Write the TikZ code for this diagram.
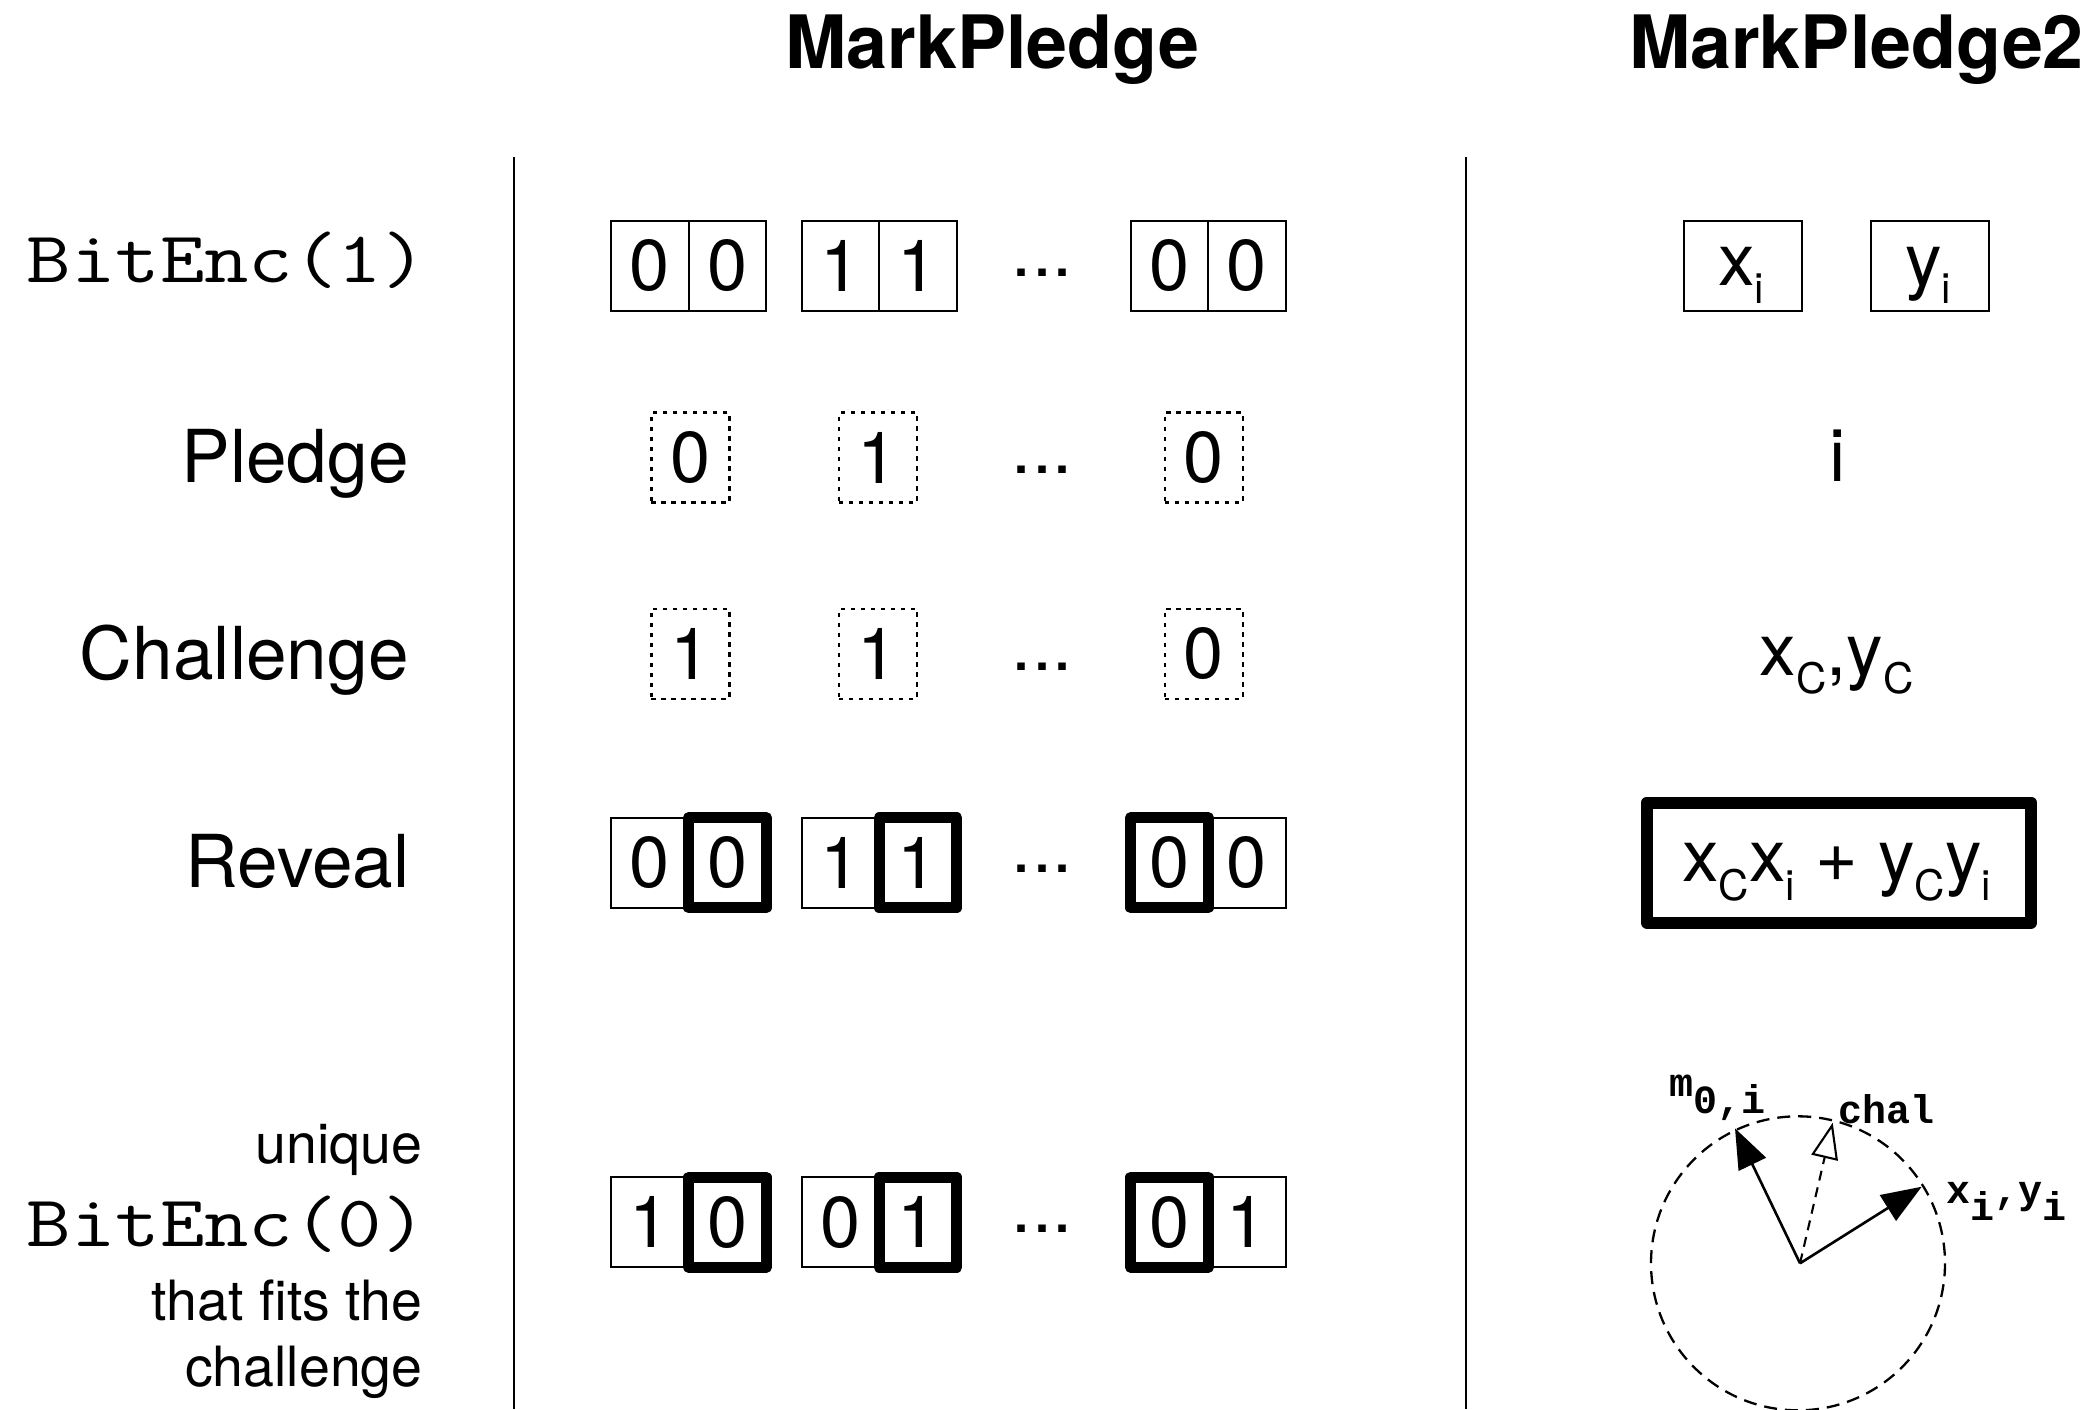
\documentclass[tikz,border=0pt]{standalone}
\usepackage{graphicx}
\usepackage{fontspec}
\setmainfont{TeX Gyre Heros}
\newfontfamily\monofam{Liberation Mono}
\usetikzlibrary{arrows.meta}
\newcommand{\digfont}{\fontsize{36}{40}\selectfont}
\newcommand{\bigfont}{\fontsize{36.5}{40}\selectfont}
\newcommand{\smallfont}{\fontsize{27.75}{32}\selectfont}
\newcommand{\titlefont}{\fontsize{36.8}{40}\selectfont\bfseries}
\newcommand{\codefont}{\fontsize{36.4}{40}\selectfont\ttfamily}
\newcommand{\vecfont}{\fontsize{20}{22}\selectfont\monofam\bfseries}
\newcommand{\sbx}[1]{\raisebox{-9.15pt}{\fontsize{21}{21}\selectfont #1}}
\newcommand{\vsb}[1]{\raisebox{-8.5pt}{#1}}
\newcommand{\wide}[1]{\scalebox{1.185}[1]{#1}}
\begin{document}
\begin{tikzpicture}[x=0.5pt,y=-0.5pt,
  cell/.style={draw, line width=1.15pt, minimum width=38.75pt, minimum height=45pt, inner sep=0pt, font=\digfont},
  hcell/.style={draw, line width=5.6pt, line join=round, minimum width=38.75pt, minimum height=45pt, inner sep=0pt, font=\digfont},
  pbox/.style={draw, line width=1.1pt, dash pattern=on 2.2pt off 2.8pt, minimum width=39pt, minimum height=45pt, inner sep=0pt, font=\digfont},
  vbox/.style={draw, line width=1.15pt, minimum width=58.7pt, minimum height=45pt, inner sep=0pt},
  bigbox/.style={draw, line width=6pt, line join=round, minimum width=192.25pt, minimum height=60pt, inner sep=0pt},
  ttl/.style={anchor=base, font=\titlefont, inner sep=0pt},
  lbl/.style={anchor=base east, font=\bigfont, inner sep=0pt},
  slbl/.style={anchor=base east, font=\smallfont, inner sep=0pt},
  code/.style={anchor=base east, font=\codefont, inner sep=0pt},
  rtxt/.style={anchor=base, font=\bigfont, inner sep=0pt},
  dotsn/.style={anchor=base, font=\digfont, inner sep=0pt},
  vlbl/.style={anchor=base west, font=\vecfont, inner sep=0pt},
  sep/.style={line width=1.2pt},
  circ/.style={line width=1.15pt, dash pattern=on 6.5pt off 4pt},
  solidarrow/.style={line width=1.3pt, -{Triangle[length=20pt,width=15pt]}},
  openarrow/.style={line width=1.05pt, dash pattern=on 5pt off 3.5pt, -{Triangle[open,length=18pt,width=13.5pt,fill=white]}}
]
\useasboundingbox (0,0) rectangle (2092,1409);

% titles
\node[ttl] (t1) at (992.5,68.3) {MarkPledge};
\node[ttl] (t2) at (1856.5,68.3) {MarkPledge2};

% separators
\coordinate (s1a) at (514,157); \coordinate (s1b) at (514,1409);
\coordinate (s2a) at (1466,157); \coordinate (s2b) at (1466,1409);
\draw[sep] (s1a) -- (s1b);
\draw[sep] (s2a) -- (s2b);

% left labels
\node[code] (l1) at (427,282.6) {\wide{BitEnc(1)}};
\node[lbl] (l2) at (409,482) {Pledge};
\node[lbl] (l3) at (409,679) {Challenge};
\node[lbl] (l4) at (410,887.5) {Reveal};
\node[slbl] (l5a) at (423,1163.3) {unique};
\node[code] (l5b) at (427,1246.7) {\wide{BitEnc(0)}};
\node[slbl] (l5c) at (423,1320) {that fits the};
\node[slbl] (l5d) at (423,1386.7) {challenge};

% row 1
\node[cell] (a1) at (649.95,265.7) {0};
\node[cell] (a2) at (727.45,265.7) {0};
\node[cell] (a3) at (840.45,265.7) {1};
\node[cell] (a4) at (917.95,265.7) {1};
\node[cell] (a5) at (1169.45,265.7) {0};
\node[cell] (a6) at (1246.95,265.7) {0};
\node[dotsn] (ad) at (1042,276) {...};

% row 2 pledge
\node[pbox] (b1) at (690.4,457.5) {0};
\node[pbox] (b2) at (877.9,457.5) {1};
\node[pbox] (b3) at (1203.7,457.5) {0};
\node[dotsn] (bd) at (1042,473) {...};

% row 3 challenge
\node[pbox] (c1) at (690.4,653.7) {1};
\node[pbox] (c2) at (877.9,653.7) {1};
\node[pbox] (c3) at (1203.7,653.7) {0};
\node[dotsn] (cd) at (1042,670) {...};

% row 4 reveal
\node[cell] (d1) at (649.95,862.8) {0};
\node[hcell] (d2) at (727.45,862.8) {0};
\node[cell] (d3) at (840.45,862.8) {1};
\node[hcell] (d4) at (917.95,862.8) {1};
\node[cell] (d6) at (1246.95,862.8) {0};
\node[hcell] (d5) at (1169.45,862.8) {0};
\node[dotsn] (dd) at (1042,872) {...};

% row 5
\node[cell] (e1) at (649.95,1222.2) {1};
\node[hcell] (e2) at (727.45,1222.2) {0};
\node[cell] (e3) at (840.45,1222.2) {0};
\node[hcell] (e4) at (917.95,1222.2) {1};
\node[cell] (e6) at (1246.95,1222.2) {1};
\node[hcell] (e5) at (1169.45,1222.2) {0};
\node[dotsn] (ed) at (1042,1232) {...};

% right column
\node[vbox] (xb) at (1743,265.7) {};
\node[vbox] (yb) at (1930,265.7) {};
\node[rtxt] (xt) at (1741,285) {x\sbx{i}};
\node[rtxt] (yt) at (1928,285) {y\sbx{i}};
\node[rtxt] (it) at (1837.5,481.7) {i};
\node[rtxt] (ct) at (1836.5,675) {x\sbx{C},y\sbx{C}};
\node[bigbox] (rb) at (1839,862.5) {};
\node[rtxt] (rt) at (1836.7,881.7) {x\sbx{C}x\sbx{i} + y\sbx{C}y\sbx{i}};

% circle diagram
\coordinate (o) at (1800,1263.3);
\coordinate (mtip) at (1735,1128.3);
\coordinate (ctip) at (1832.7,1122.7);
\coordinate (xtip) at (1921.7,1186.7);
\draw[circ] (1798,1263.3) circle [radius=147];
\draw[openarrow] (o) -- (ctip);
\draw[solidarrow] (o) -- (mtip);
\draw[solidarrow] (o) -- (xtip);
\node[vlbl] (ml) at (1669,1096.7) {m\vsb{0,i}};
\node[vlbl] (chl) at (1838,1123.3) {chal};
\node[vlbl] (xyl) at (1946,1203.3) {x\vsb{i},y\vsb{i}};
\end{tikzpicture}
\end{document}
